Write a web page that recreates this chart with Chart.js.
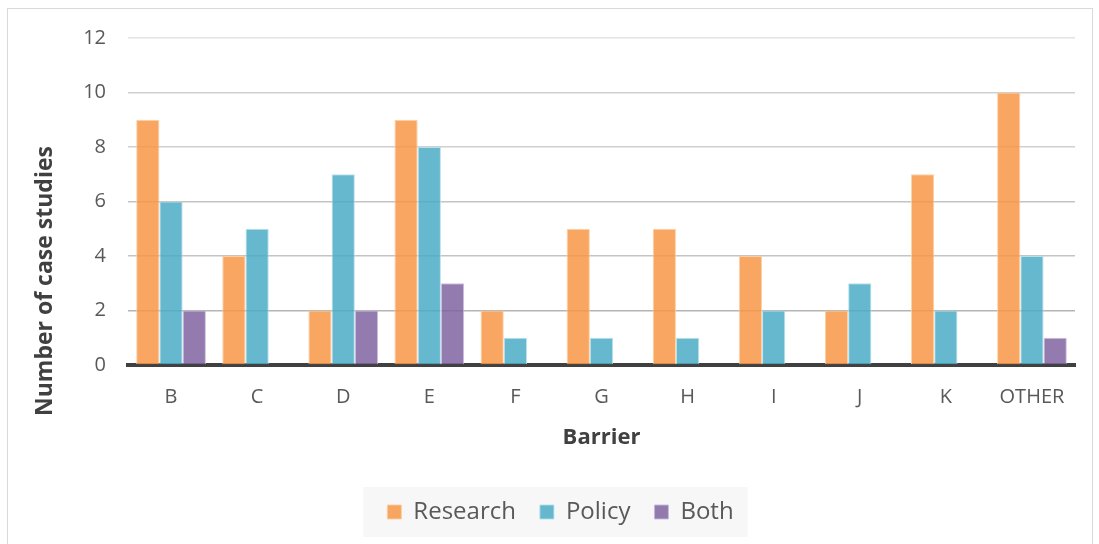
<!DOCTYPE html>
<html>
<head>
<meta charset="utf-8">
<script src="https://cdn.jsdelivr.net/npm/chart.js@4"></script>
<style>
  html, body { margin: 0; padding: 0; background: #ffffff; }
  #frame {
    position: absolute; left: 7px; top: 8px; width: 1086px; height: 560px;
    border: 1.5px solid #d9d9d9; box-sizing: border-box;
  }
  #wrap { position: absolute; left: 0; top: 0; width: 1099px; height: 544px; }
</style>
</head>
<body>
<div id="frame"></div>
<div id="wrap"><canvas id="chart"></canvas></div>
<script>
// Barriers reported across case studies
const categories = ['B', 'C', 'D', 'E', 'F', 'G', 'H', 'I', 'J', 'K', 'OTHER'];
const research = [9, 4, 2, 9, 2, 5, 5, 4, 2, 7, 10];
const policy   = [6, 5, 7, 8, 1, 1, 1, 2, 3, 2, 4];
const both     = [2, 0, 2, 3, 0, 0, 0, 0, 0, 0, 1];
const yTicks   = [0, 2, 4, 6, 8, 10, 12];
const yTitle   = 'Number of case studies';

const FONT = '"Open Sans", "Liberation Sans", sans-serif';

// grey panel behind the legend
const legendPanel = {
  id: 'legendPanel',
  beforeDraw(chart) {
    const lg = chart.legend;
    if (!lg || !lg.legendHitBoxes || !lg.legendHitBoxes.length) return;
    const boxes = lg.legendHitBoxes;
    const left = Math.min(...boxes.map(b => b.left));
    const right = Math.max(...boxes.map(b => b.left + b.width));
    const top = Math.min(...boxes.map(b => b.top));
    const bottom = Math.max(...boxes.map(b => b.top + b.height));
    const cy = (top + bottom) / 2;
    const ctx = chart.ctx;
    ctx.save();
    ctx.fillStyle = '#f7f7f7';
    ctx.fillRect(left - 24, cy - 25, (right - left) + 38, 50);
    ctx.restore();
  }
};

// vertical value-axis title, centred a little below the plot's middle
const valueAxisTitle = {
  id: 'valueAxisTitle',
  afterDraw(chart) {
    const area = chart.chartArea;
    const ctx = chart.ctx;
    ctx.save();
    ctx.translate(45, area.bottom - 84);
    ctx.rotate(-Math.PI / 2);
    ctx.font = 'bold 23px ' + FONT;
    ctx.fillStyle = '#404040';
    ctx.textAlign = 'center';
    ctx.textBaseline = 'middle';
    ctx.fillText(yTitle, 0, 0);
    ctx.restore();
  }
};

new Chart(document.getElementById('chart'), {
  type: 'bar',
  data: {
    labels: categories,
    datasets: [
      { label: 'Research', data: research, backgroundColor: 'rgba(247,150,70,0.85)', borderColor: 'rgba(252,205,160,0.9)', borderWidth: 1 },
      { label: 'Policy',   data: policy,   backgroundColor: 'rgba(75,172,198,0.85)', borderColor: 'rgba(180,222,235,0.9)', borderWidth: 1 },
      { label: 'Both',     data: both,     backgroundColor: 'rgba(128,100,162,0.85)', borderColor: 'rgba(200,185,220,0.9)', borderWidth: 1 }
    ]
  },
  options: {
    responsive: true,
    maintainAspectRatio: false,
    animation: false,
    layout: { padding: { left: 46, right: 24, top: 38, bottom: 10 } },
    datasets: { bar: { categoryPercentage: 0.81, barPercentage: 1.0 } },
    plugins: {
      tooltip: { enabled: false },
      legend: {
        position: 'bottom',
        labels: {
          font: { family: FONT, size: 24 },
          color: '#595959',
          boxWidth: 14,
          boxHeight: 14,
          padding: 24,
          generateLabels(chart) {
            return chart.data.datasets.map((ds, i) => ({
              text: ds.label,
              fillStyle: ds.backgroundColor,
              strokeStyle: ds.borderColor,
              lineWidth: 1,
              fontColor: '#595959',
              datasetIndex: i,
              hidden: false
            }));
          }
        }
      }
    },
    scales: {
      x: {
        grid: { display: false, drawTicks: false },
        border: { display: true, color: '#404040', width: 4 },
        ticks: { font: { family: FONT, size: 20 }, color: '#595959', padding: 20 },
        title: {
          display: true, text: 'Barrier',
          font: { family: FONT, size: 22, weight: 'bold' }, color: '#404040',
          padding: { top: 4, bottom: 25 }
        },
        afterFit(scale) { scale.height = 111; }
      },
      y: {
        min: 0, max: 12,
        afterBuildTicks(scale) { scale.ticks = yTicks.map(v => ({ value: v })); },
        grid: {
          drawTicks: false,
          color(ctx) {
            const v = ctx.tick ? ctx.tick.value : 0;
            if (v >= 12) return '#e3e3e3';
            if (v >= 8) return '#d0d0d0';
            if (v >= 4) return '#c4c4c4';
            return '#b5b5b5';
          },
          lineWidth: 1.5
        },
        border: { display: false },
        ticks: { font: { family: FONT, size: 20 }, color: '#595959', padding: 22 },
        title: { display: false, text: yTitle },
        afterFit(scale) { scale.width = 82; }
      }
    }
  },
  plugins: [legendPanel, valueAxisTitle]
});
</script>
</body>
</html>
